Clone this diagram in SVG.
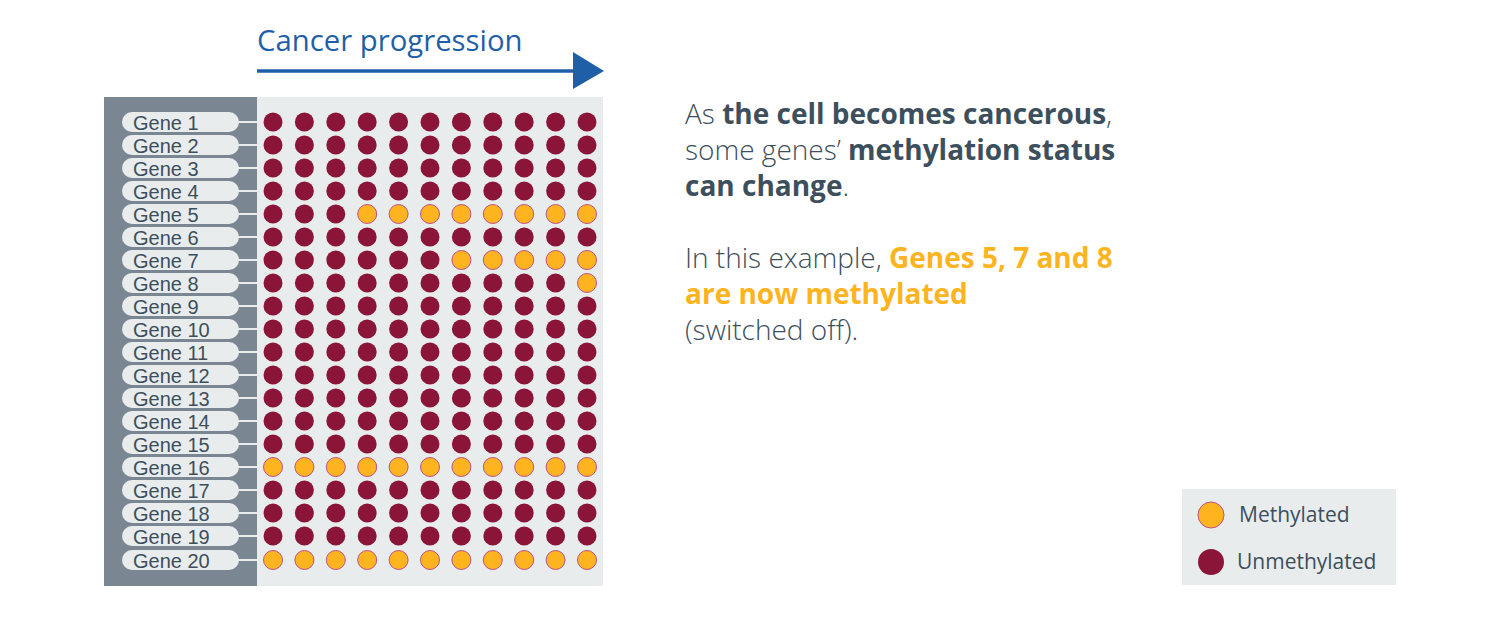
<svg xmlns="http://www.w3.org/2000/svg" width="1500" height="630" viewBox="0 0 1500 630">
<defs>
<style>
.t{font-family:"Open Sans","Noto Sans",sans-serif;fill:#3d4f5c}
.d{font-weight:300}
.b{font-weight:700}
.o{fill:#fdb41f}
.pill{fill:#e8eced}
.lk{stroke:#e8eced;stroke-width:2}
.u{fill:#8a1538}
.m{fill:#fdb41f;stroke:#c0508a;stroke-width:1}
.gl{font-family:"Liberation Sans",Arial,sans-serif;fill:#3d4f5c;font-size:20px}
</style>
</defs>
<rect width="1500" height="630" fill="#ffffff"/>
<g id="title">
<text class="t" x="257" y="51" font-size="29.3" style="fill:#1f5fa8">Cancer progression</text>
</g>
<g id="connectors">
<line x1="257" y1="71" x2="576" y2="71" stroke="#1f5fa8" stroke-width="3.5"/>
<path d="M573,52 L604,71 L573,89 Z" fill="#1f5fa8"/>
</g>
<g id="panel">
<rect x="104" y="97" width="153" height="489" fill="#7a8793"/>
<rect x="257" y="97" width="346" height="489" fill="#e8eced"/>
</g>
<g id="genes">
<g id="gene1"><line class="lk" x1="238" y1="122" x2="257" y2="122"/><rect class="pill" x="122" y="112" width="117" height="20" rx="10"/><text class="gl" x="133" y="129.5">Gene 1</text></g>
<g id="gene2"><line class="lk" x1="238" y1="145" x2="257" y2="145"/><rect class="pill" x="122" y="135" width="117" height="20" rx="10"/><text class="gl" x="133" y="152.5">Gene 2</text></g>
<g id="gene3"><line class="lk" x1="238" y1="168" x2="257" y2="168"/><rect class="pill" x="122" y="158" width="117" height="20" rx="10"/><text class="gl" x="133" y="175.5">Gene 3</text></g>
<g id="gene4"><line class="lk" x1="238" y1="191" x2="257" y2="191"/><rect class="pill" x="122" y="181" width="117" height="20" rx="10"/><text class="gl" x="133" y="198.5">Gene 4</text></g>
<g id="gene5"><line class="lk" x1="238" y1="214" x2="257" y2="214"/><rect class="pill" x="122" y="204" width="117" height="20" rx="10"/><text class="gl" x="133" y="221.5">Gene 5</text></g>
<g id="gene6"><line class="lk" x1="238" y1="237" x2="257" y2="237"/><rect class="pill" x="122" y="227" width="117" height="20" rx="10"/><text class="gl" x="133" y="244.5">Gene 6</text></g>
<g id="gene7"><line class="lk" x1="238" y1="260" x2="257" y2="260"/><rect class="pill" x="122" y="250" width="117" height="20" rx="10"/><text class="gl" x="133" y="267.5">Gene 7</text></g>
<g id="gene8"><line class="lk" x1="238" y1="283" x2="257" y2="283"/><rect class="pill" x="122" y="273" width="117" height="20" rx="10"/><text class="gl" x="133" y="290.5">Gene 8</text></g>
<g id="gene9"><line class="lk" x1="238" y1="306" x2="257" y2="306"/><rect class="pill" x="122" y="296" width="117" height="20" rx="10"/><text class="gl" x="133" y="313.5">Gene 9</text></g>
<g id="gene10"><line class="lk" x1="238" y1="329" x2="257" y2="329"/><rect class="pill" x="122" y="319" width="117" height="20" rx="10"/><text class="gl" x="133" y="336.5">Gene 10</text></g>
<g id="gene11"><line class="lk" x1="238" y1="352" x2="257" y2="352"/><rect class="pill" x="122" y="342" width="117" height="20" rx="10"/><text class="gl" x="133" y="359.5">Gene 11</text></g>
<g id="gene12"><line class="lk" x1="238" y1="375" x2="257" y2="375"/><rect class="pill" x="122" y="365" width="117" height="20" rx="10"/><text class="gl" x="133" y="382.5">Gene 12</text></g>
<g id="gene13"><line class="lk" x1="238" y1="398" x2="257" y2="398"/><rect class="pill" x="122" y="388" width="117" height="20" rx="10"/><text class="gl" x="133" y="405.5">Gene 13</text></g>
<g id="gene14"><line class="lk" x1="238" y1="421" x2="257" y2="421"/><rect class="pill" x="122" y="411" width="117" height="20" rx="10"/><text class="gl" x="133" y="428.5">Gene 14</text></g>
<g id="gene15"><line class="lk" x1="238" y1="444" x2="257" y2="444"/><rect class="pill" x="122" y="434" width="117" height="20" rx="10"/><text class="gl" x="133" y="451.5">Gene 15</text></g>
<g id="gene16"><line class="lk" x1="238" y1="467" x2="257" y2="467"/><rect class="pill" x="122" y="457" width="117" height="20" rx="10"/><text class="gl" x="133" y="474.5">Gene 16</text></g>
<g id="gene17"><line class="lk" x1="238" y1="490" x2="257" y2="490"/><rect class="pill" x="122" y="480" width="117" height="20" rx="10"/><text class="gl" x="133" y="497.5">Gene 17</text></g>
<g id="gene18"><line class="lk" x1="238" y1="513" x2="257" y2="513"/><rect class="pill" x="122" y="503" width="117" height="20" rx="10"/><text class="gl" x="133" y="520.5">Gene 18</text></g>
<g id="gene19"><line class="lk" x1="238" y1="536" x2="257" y2="536"/><rect class="pill" x="122" y="526" width="117" height="20" rx="10"/><text class="gl" x="133" y="543.5">Gene 19</text></g>
<g id="gene20"><line class="lk" x1="238" y1="560" x2="257" y2="560"/><rect class="pill" x="122" y="550" width="117" height="20" rx="10"/><text class="gl" x="133" y="567.5">Gene 20</text></g>
</g>
<g id="dots">
<defs>
<g id="rowU"><circle class="u" cx="273" cy="0" r="9.5"/><circle class="u" cx="304.4" cy="0" r="9.5"/><circle class="u" cx="335.8" cy="0" r="9.5"/><circle class="u" cx="367.2" cy="0" r="9.5"/><circle class="u" cx="398.6" cy="0" r="9.5"/><circle class="u" cx="430" cy="0" r="9.5"/><circle class="u" cx="461.4" cy="0" r="9.5"/><circle class="u" cx="492.8" cy="0" r="9.5"/><circle class="u" cx="524.2" cy="0" r="9.5"/><circle class="u" cx="555.6" cy="0" r="9.5"/><circle class="u" cx="587" cy="0" r="9.5"/></g>
<g id="rowM"><circle class="m" cx="273" cy="0" r="9.5"/><circle class="m" cx="304.4" cy="0" r="9.5"/><circle class="m" cx="335.8" cy="0" r="9.5"/><circle class="m" cx="367.2" cy="0" r="9.5"/><circle class="m" cx="398.6" cy="0" r="9.5"/><circle class="m" cx="430" cy="0" r="9.5"/><circle class="m" cx="461.4" cy="0" r="9.5"/><circle class="m" cx="492.8" cy="0" r="9.5"/><circle class="m" cx="524.2" cy="0" r="9.5"/><circle class="m" cx="555.6" cy="0" r="9.5"/><circle class="m" cx="587" cy="0" r="9.5"/></g>
</defs>
<use href="#rowU" y="122"/>
<use href="#rowU" y="145"/>
<use href="#rowU" y="168"/>
<use href="#rowU" y="191"/>
<g transform="translate(0,214)"><circle class="u" cx="273" cy="0" r="9.5"/><circle class="u" cx="304.4" cy="0" r="9.5"/><circle class="u" cx="335.8" cy="0" r="9.5"/><circle class="m" cx="367.2" cy="0" r="9.5"/><circle class="m" cx="398.6" cy="0" r="9.5"/><circle class="m" cx="430" cy="0" r="9.5"/><circle class="m" cx="461.4" cy="0" r="9.5"/><circle class="m" cx="492.8" cy="0" r="9.5"/><circle class="m" cx="524.2" cy="0" r="9.5"/><circle class="m" cx="555.6" cy="0" r="9.5"/><circle class="m" cx="587" cy="0" r="9.5"/></g>
<use href="#rowU" y="237"/>
<g transform="translate(0,260)"><circle class="u" cx="273" cy="0" r="9.5"/><circle class="u" cx="304.4" cy="0" r="9.5"/><circle class="u" cx="335.8" cy="0" r="9.5"/><circle class="u" cx="367.2" cy="0" r="9.5"/><circle class="u" cx="398.6" cy="0" r="9.5"/><circle class="u" cx="430" cy="0" r="9.5"/><circle class="m" cx="461.4" cy="0" r="9.5"/><circle class="m" cx="492.8" cy="0" r="9.5"/><circle class="m" cx="524.2" cy="0" r="9.5"/><circle class="m" cx="555.6" cy="0" r="9.5"/><circle class="m" cx="587" cy="0" r="9.5"/></g>
<g transform="translate(0,283)"><circle class="u" cx="273" cy="0" r="9.5"/><circle class="u" cx="304.4" cy="0" r="9.5"/><circle class="u" cx="335.8" cy="0" r="9.5"/><circle class="u" cx="367.2" cy="0" r="9.5"/><circle class="u" cx="398.6" cy="0" r="9.5"/><circle class="u" cx="430" cy="0" r="9.5"/><circle class="u" cx="461.4" cy="0" r="9.5"/><circle class="u" cx="492.8" cy="0" r="9.5"/><circle class="u" cx="524.2" cy="0" r="9.5"/><circle class="u" cx="555.6" cy="0" r="9.5"/><circle class="m" cx="587" cy="0" r="9.5"/></g>
<use href="#rowU" y="306"/>
<use href="#rowU" y="329"/>
<use href="#rowU" y="352"/>
<use href="#rowU" y="375"/>
<use href="#rowU" y="398"/>
<use href="#rowU" y="421"/>
<use href="#rowU" y="444"/>
<use href="#rowM" y="467"/>
<use href="#rowU" y="490"/>
<use href="#rowU" y="513"/>
<use href="#rowU" y="536"/>
<use href="#rowM" y="560"/>
</g>
<g id="description">
<text class="t d" x="685" y="124" font-size="28">As <tspan class="b">the cell becomes cancerous</tspan>,</text>
<text class="t d" x="685" y="160" font-size="28">some genes’ <tspan class="b">methylation status</tspan></text>
<text class="t d" x="685" y="196" font-size="28"><tspan class="b">can change</tspan>.</text>
<text class="t d" x="685" y="268" font-size="28">In this example, <tspan class="b o">Genes 5, 7 and 8</tspan></text>
<text class="t b o" x="685" y="304" font-size="28">are now methylated</text>
<text class="t d" x="685" y="340" font-size="28">(switched off).</text>
</g>
<g id="legend">
<rect x="1182" y="489" width="214" height="96" fill="#e8eced"/>
<circle class="m" cx="1211" cy="515" r="13"/>
<circle class="u" cx="1211" cy="562" r="13"/>
<text class="t" x="1239" y="522" font-size="21">Methylated</text>
<text class="t" x="1237" y="569" font-size="21">Unmethylated</text>
</g>
</svg>
